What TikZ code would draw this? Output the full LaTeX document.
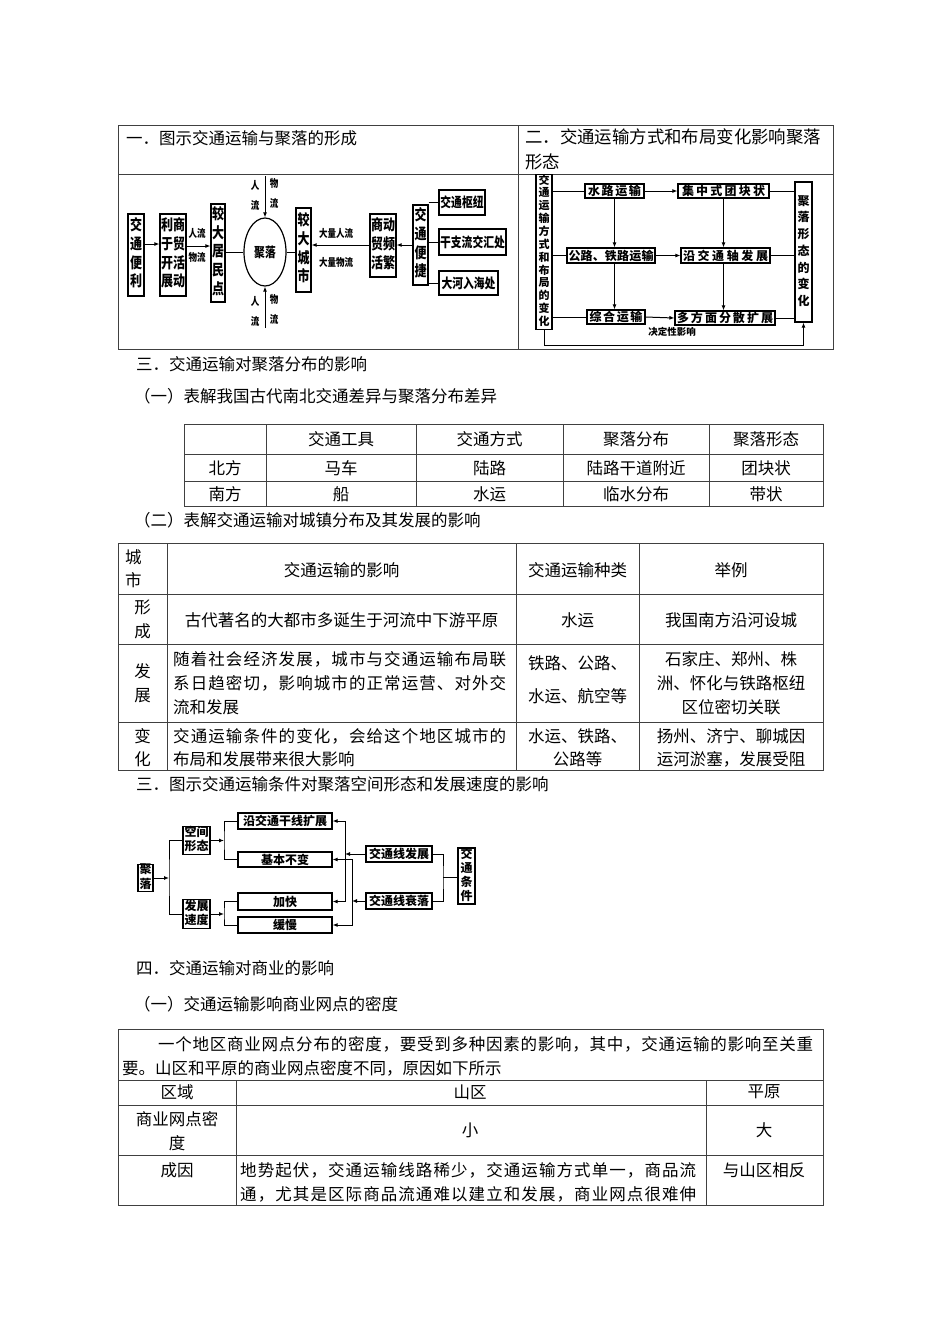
\documentclass[tikz,border=0pt]{standalone}
\usepackage{fontspec}
\usepackage{graphicx}
\setmainfont{Noto Sans CJK SC}
\usetikzlibrary{arrows.meta,shapes.geometric}
\newcommand\tall[1]{\scalebox{1}[1.25]{#1}}
\newcommand\vst[1]{\begin{tabular}{@{}c@{}}#1\end{tabular}}
\newcommand\vstt[1]{\begin{tabular}{@{}c@{}c@{}}#1\end{tabular}}
\def\spfirst#1{#1\sprest}
\def\sprest#1{\ifx\relax#1\else\hskip 0pt plus 1fil\relax#1\expandafter\sprest\fi}
\newcommand\jline[2]{\makebox[#1pt][s]{\spfirst#2\relax}}
\newcommand\bx[7][]{\node[bxs,#1,minimum width={#4-#2},minimum height={#5-#3}] (#6) at ({(#2+#4)/2},{(#3+#5)/2}) {#7};}
\tikzset{
 tbl/.style={line width=0.9pt, draw=black!75},
 bxs/.style={draw, line width=1.2pt, inner sep=0pt, align=center},
 ldf/.style={font=\fontsize{12}{15}\selectfont\bfseries},
 ldh/.style={font=\fontsize{10.8}{15}\selectfont\bfseries},
 lbf/.style={font=\fontsize{8.5}{16}\selectfont\bfseries},
 rdf/.style={font=\fontsize{11}{11.7}\selectfont\bfseries},
 rdb/.style={font=\fontsize{12}{12}\selectfont\bfseries},
 rdg/.style={font=\fontsize{12}{16.7}\selectfont\bfseries},
 sdf/.style={font=\fontsize{12}{12.7}\selectfont\bfseries},
 arr/.style={line width=1pt, -{Latex[length=5pt,width=4pt]}},
 ln/.style={line width=1pt},
 txt/.style={inner sep=0pt, anchor=west},
 cc/.style={inner sep=0pt, align=center},
}
\begin{document}
\begin{tikzpicture}[x=1pt,y=-1pt,font=\fontsize{16.5}{24}\selectfont]
\fill[white] (0,0) rectangle (950,1344);
\useasboundingbox (0,0) rectangle (950,1344);

% ---------- top table ----------
\draw[tbl] (118,125) rectangle (833,349);
\draw[tbl] (118,174) -- (833,174);
\draw[tbl] (518,125) -- (518,349);
\node[txt] (h1) at (126,138) {一．图示交通运输与聚落的形成};
\node[txt, font=\fontsize{17.4}{24}\selectfont] (h2) at (525,137) {二．交通运输方式和布局变化影响聚落};
\node[txt, font=\fontsize{17.4}{24}\selectfont] (h2b) at (525,162) {形态};

% ---------- left diagram ----------
\bx[ldf]{128}{214}{144}{296}{A}{\tall{\vst{交\\通\\便\\利}}}
\bx[ldf]{160}{214}{186}{296}{B}{\tall{\vstt{利&商\\于&贸\\开&活\\展&动}}}
\bx[ldf]{211}{204}{225}{302}{C}{\tall{\vst{较\\大\\居\\民\\点}}}
\node[draw, ellipse, line width=1.2pt, minimum width=42, minimum height=68, inner sep=0pt, ldh] (jl) at (265,252) {\tall{聚落}};
\bx[ldf]{296}{208}{311}{292}{D}{\tall{\vst{较\\大\\城\\市}}}
\bx[ldf]{370}{214}{396}{277}{E}{\tall{\vstt{商&动\\贸&频\\活&繁}}}
\bx[ldf]{413}{205}{428}{285}{F}{\tall{\vst{交\\通\\便\\捷}}}
\bx[ldh]{439}{190}{485}{215}{G}{\tall{交通枢纽}}
\bx[ldh]{439}{229}{506}{255}{H}{\tall{干支流交汇处}}
\bx[ldh]{439}{271}{498}{295}{I}{\tall{大河入海处}}
\node[cc, lbf] (l1) at (197,233) {\tall{人流}};
\node[cc, lbf] (l2) at (197,257) {\tall{物流}};
\node[cc, lbf] (l3) at (336,233) {\tall{大量人流}};
\node[cc, lbf] (l4) at (336,262) {\tall{大量物流}};
\node[cc, lbf] (l5) at (255,195) {\tall{\vst{人\\流}}};
\node[cc, lbf] (l6) at (274,193) {\tall{\vst{物\\流}}};
\node[cc, lbf] (l7) at (255,311) {\tall{\vst{人\\流}}};
\node[cc, lbf] (l8) at (274,309) {\tall{\vst{物\\流}}};
\coordinate (ya) at (0,244);
\coordinate (yb) at (0,246);
\coordinate (yc) at (0,245);
\draw[arr] (A.east |- ya) -- (B.west |- ya);
\draw[arr] (B.east |- yb) -- (C.west |- yb);
\draw[ln] (C.east |- jl.west) -- (jl.west);
\draw[ln] (jl.east) -- (D.west |- jl.east);
\draw[arr] (E.west |- yc) -- (D.east |- yc);
\draw[arr] (F.west |- yc) -- (E.east |- yc);
\draw[ln] (F.east |- G.west) -- (G.west);
\draw[ln] (F.east |- H.west) -- (H.west);
\draw[ln] (F.east |- I.west) -- (I.west);
\coordinate (tin) at (265,176);
\coordinate (bin) at (265,328);
\draw[arr] (tin) -- (jl.north);
\draw[arr] (bin) -- (jl.south);

% ---------- right diagram ----------
\bx[rdf]{536}{182}{552}{322}{L}{\vst{交\\通\\运\\输\\方\\式\\和\\布\\局\\的\\变\\化}}
\bx[rdg]{795}{182}{812}{322}{R}{\vst{聚\\落\\形\\态\\的\\变\\化}}
\bx[rdb]{585}{184}{644}{198}{W1}{\jline{53}{水路运输}}
\bx[rdb]{678}{184}{769}{198}{W2}{\jline{83}{集中式团块状}}
\bx[rdb]{567}{248}{655}{263}{M1}{\jline{85}{公路、铁路运输}}
\bx[rdb]{681}{248}{770}{263}{M2}{\jline{85}{沿交通轴发展}}
\bx[rdb]{587}{310}{645}{324}{B1}{\jline{53}{综合运输}}
\bx[rdb]{675}{311}{775}{325}{B2}{\jline{96}{多方面分散扩展}}
\draw[ln] (L.east |- W1.west) -- (W1.west);
\draw[arr] (W1.east) -- (W2.west);
\draw[ln] (W2.east) -- (R.west |- W2.east);
\draw[ln] (L.east |- M1.west) -- (M1.west);
\draw[arr] (M1.east) -- (M2.west);
\draw[ln] (M2.east) -- (R.west |- M2.east);
\draw[ln] (L.east |- B1.west) -- (B1.west);
\draw[arr] (B1.east) -- (B2.west);
\draw[ln] (B2.east) -- (R.west |- B2.east);
\draw[arr] (W1.south) -- (W1.south |- M1.north);
\draw[arr] (W1.south |- M1.south) -- (W1.south |- B1.north);
\draw[arr] (W2.south) -- (W2.south |- M2.north);
\draw[arr] (W2.south |- M2.south) -- (W2.south |- B2.north);
\draw[arr] (L.south) -- ++(0,16) -| (R.south);
\node[cc, font=\fontsize{9.5}{10}\selectfont\bfseries] (dl) at (672,332) {决定性影响};

% ---------- section 3 heading + table 1 ----------
\node[txt] (s3) at (136,364) {三．交通运输对聚落分布的影响};
\node[txt] (s31) at (134,396) {（一）表解我国古代南北交通差异与聚落分布差异};
\draw[tbl] (184,424) rectangle (823,506);
\draw[tbl] (184,454) -- (823,454);
\draw[tbl] (184,481) -- (823,481);
\foreach \xx in {266,416,563,709} \draw[tbl] (\xx,424) -- (\xx,506);
\node[cc] (a1) at (341,439) {交通工具};
\node[cc] (a2) at (489.5,439) {交通方式};
\node[cc] (a3) at (636,439) {聚落分布};
\node[cc] (a4) at (766,439) {聚落形态};
\node[cc] (b0) at (225,468) {北方};
\node[cc] (b1) at (341,468) {马车};
\node[cc] (b2) at (489.5,468) {陆路};
\node[cc] (b3) at (636,468) {陆路干道附近};
\node[cc] (b4) at (766,468) {团块状};
\node[cc] (c0) at (225,494) {南方};
\node[cc] (c1) at (341,494) {船};
\node[cc] (c2) at (489.5,494) {水运};
\node[cc] (c3) at (636,494) {临水分布};
\node[cc] (c4) at (766,494) {带状};

% ---------- table 2 ----------
\node[txt] (s32) at (134,520) {（二）表解交通运输对城镇分布及其发展的影响};
\draw[tbl] (118,543) rectangle (823,770);
\foreach \yy in {594,644,722} \draw[tbl] (118,\yy) -- (823,\yy);
\foreach \xx in {167,516,639} \draw[tbl] (\xx,543) -- (\xx,770);
\node[txt, align=left, font=\fontsize{16.5}{23}\selectfont] (d0) at (125,569) {城\\市};
\node[cc] (d1) at (341.5,570) {交通运输的影响};
\node[cc] (d2) at (577.5,570) {交通运输种类};
\node[cc] (d3) at (731,570) {举例};
\node[cc] (e0) at (142.5,619) {形\\成};
\node[cc] (e1) at (341.5,620) {古代著名的大都市多诞生于河流中下游平原};
\node[cc] (e2) at (577.5,620) {水运};
\node[cc] (e3) at (731,620) {我国南方沿河设城};
\node[cc] (f0) at (142.5,683.5) {发\\展};
\node[txt, align=left] (f1) at (173,683.5) {\jline{333}{随着社会经济发展，城市与交通运输布局联}\\\jline{333}{系日趋密切，影响城市的正常运营、对外交}\\流和发展};
\node[cc, font=\fontsize{16.5}{33}\selectfont] (f2) at (577.5,680) {铁路、公路、\\水运、航空等};
\node[cc] (f3) at (731,683.5) {石家庄、郑州、株\\洲、怀化与铁路枢纽\\区位密切关联};
\node[cc, font=\fontsize{16.5}{23}\selectfont] (g0) at (142.5,747.5) {变\\化};
\node[txt, align=left, font=\fontsize{16.5}{23}\selectfont] (g1) at (173,747.5) {\jline{333}{交通运输条件的变化，会给这个地区城市的}\\布局和发展带来很大影响};
\node[cc, font=\fontsize{16.5}{23}\selectfont] (g2) at (577.5,747.5) {水运、铁路、\\公路等};
\node[cc, font=\fontsize{16.5}{23}\selectfont] (g3) at (731,747.5) {扬州、济宁、聊城因\\运河淤塞，发展受阻};

% ---------- diagram 3 ----------
\node[txt] (s33) at (136,784) {三．图示交通运输条件对聚落空间形态和发展速度的影响};
\bx[sdf]{138}{865}{153}{891}{P}{\vst{聚\\落}}
\bx[sdf]{183}{827}{210}{854}{Q}{\vst{空间\\形态}}
\bx[sdf]{183}{900}{210}{928}{S}{\vst{发展\\速度}}
\bx[sdf]{238}{813}{332}{829}{T1}{沿交通干线扩展}
\bx[sdf]{238}{852}{332}{867}{T2}{基本不变}
\bx[sdf]{238}{893}{332}{910}{T3}{加快}
\bx[sdf]{238}{917}{332}{933}{T4}{缓慢}
\bx[sdf]{366}{846}{432}{862}{U1}{交通线发展}
\bx[sdf]{366}{893}{432}{909}{U2}{交通线衰落}
\bx[sdf]{458}{850}{475}{902}{V}{\vst{交\\通\\条\\件}}
\coordinate (j1) at (169,878);
\draw[arr] (P.east |- j1) -- (j1);
\draw[ln] (Q.west) -| (j1) |- (S.west);
\coordinate (j2) at (224,840.5);
\draw[arr] (Q.east) -- (j2);
\draw[ln] (T1.west) -| (j2) |- (T2.west);
\coordinate (j3) at (224,914);
\draw[arr] (S.east) -- (j3);
\draw[ln] (T3.west) -| (j3) |- (T4.west);
\coordinate (j4) at (345,854);
\draw[arr] (U1.west) -- (j4);
\draw[arr] (j4) |- (T1.east);
\draw[arr] (j4) |- (T3.east);
\coordinate (j5) at (352,901);
\draw[arr] (U2.west) -- (j5);
\draw[arr] (j5) |- (T2.east);
\draw[arr] (j5) |- (T4.east);
\coordinate (j6) at (443,877);
\draw[ln] (U1.east) -| (j6) |- (U2.east);
\draw[ln] (j6) -- (V.west |- j6);

% ---------- section 4 + table 3 ----------
\node[txt] (s4) at (136,968) {四．交通运输对商业的影响};
\node[txt] (s41) at (134,1004) {（一）交通运输影响商业网点的密度};
\draw[tbl] (118,1029) rectangle (823,1205);
\foreach \yy in {1080,1105,1155} \draw[tbl] (118,\yy) -- (823,\yy);
\foreach \xx in {236,706} \draw[tbl] (\xx,1080) -- (\xx,1205);
\node[txt] (p1) at (158,1044) {\jline{655}{一个地区商业网点分布的密度，要受到多种因素的影响，其中，交通运输的影响至关重}};
\node[txt] (p2) at (122,1068) {要。山区和平原的商业网点密度不同，原因如下所示};
\node[cc] (k0) at (177,1092) {区域};
\node[cc] (k1) at (470,1092) {山区};
\node[cc] (k2) at (764,1092) {平原};
\node[cc] (m0) at (177,1131) {商业网点密\\度};
\node[cc] (m1) at (470,1130) {小};
\node[cc] (m2) at (764,1130) {大};
\node[cc] (n0) at (177,1170) {成因};
\node[txt, align=left] (n1) at (240,1182) {\jline{456}{地势起伏，交通运输线路稀少，交通运输方式单一，商品流}\\\jline{456}{通，尤其是区际商品流通难以建立和发展，商业网点很难伸}};
\node[cc] (n2) at (764,1170) {与山区相反};
\end{tikzpicture}
\end{document}
